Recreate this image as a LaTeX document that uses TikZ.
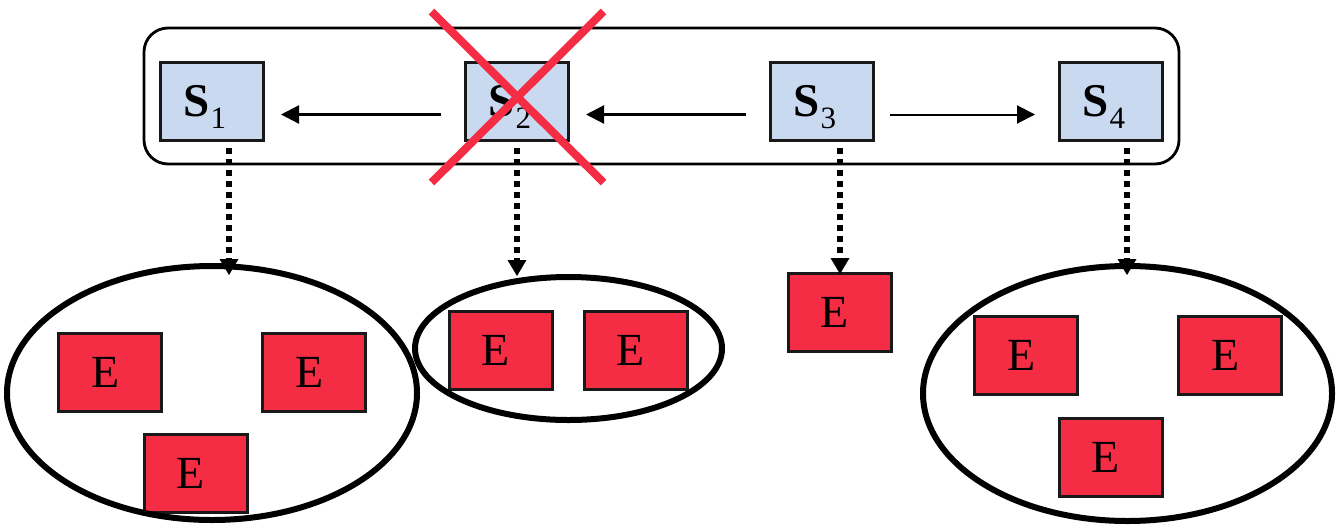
\documentclass[tikz,border=0pt]{standalone}
\usepackage{fontspec}
\setmainfont{Liberation Serif}
\usetikzlibrary{arrows.meta}
\definecolor{sfill}{HTML}{C9D9F0}
\definecolor{efill}{HTML}{F42C44}
\tikzset{
  x=0.5pt,y=-0.5pt,
  sbox/.style={draw=black!90,line width=1.5pt,fill=sfill,minimum width=51.5pt,minimum height=39pt,inner sep=0pt,font=\fontsize{23.5}{24}\selectfont\bfseries},
  ebox/.style={draw=black!90,line width=1.5pt,fill=efill,minimum width=51.5pt,minimum height=39pt,inner sep=0pt,font=\fontsize{23}{24}\selectfont},
  halo/.style={draw=black,line width=3pt},
  solidarrow/.style={line width=1.1pt,-{Triangle[length=9pt,width=9pt]}},
  thinarrow/.style={line width=1pt,-{Triangle[length=9pt,width=9pt]}},
  dotarrow/.style={line width=3.4pt,dash pattern=on 3pt off 2.5pt,-{Triangle[length=8pt,width=9.5pt,line width=0pt,sep=0pt]}},
}
\newcommand{\Slab}[1]{S\kern0.4pt\smash{\raisebox{-6pt}{\mdseries\fontsize{15.5}{15.5}\selectfont #1}}\kern7pt}
\newcommand{\Elab}{E\kern4.5pt}
\begin{document}
\begin{tikzpicture}
\useasboundingbox (0,0) rectangle (1336,525);
\fill[white] (0,0) rectangle (1336,525);
\node[draw=black,line width=1.4pt,rounded corners=12pt,minimum width=517.5pt,minimum height=68pt,inner sep=0pt] (bar) at (661.5,96) {};
\node[sbox] (s1) at (212,101.5) {\Slab{1}};
\node[sbox] (s2) at (517,101.5) {\Slab{2}};
\node[sbox] (s3) at (822,101.5) {\Slab{3}};
\node[sbox] (s4) at (1111,101.5) {\Slab{4}};
\draw[solidarrow,shorten <=11.5pt,shorten >=8pt] ([yshift=-6.5pt]s2.west) -- ([yshift=-6.5pt]s1.east);
\draw[solidarrow,shorten <=11.5pt,shorten >=8pt] ([yshift=-6.5pt]s3.west) -- ([yshift=-6.5pt]s2.east);
\draw[thinarrow,shorten <=7.5pt,shorten >=11.5pt] ([yshift=-6.5pt]s3.east) -- ([yshift=-6.5pt]s4.west);

\node[ebox] (e1) at (110,372) {\Elab};
\node[ebox] (e2) at (314,372) {\Elab};
\node[ebox] (e3) at (195.5,473) {\Elab};
\node[ebox] (e4) at (500.5,350) {\Elab};
\node[ebox] (e5) at (635.5,350) {\Elab};
\node[ebox] (e6) at (839.5,312) {\Elab};
\node[ebox] (e7) at (1026,355) {\Elab};
\node[ebox] (e8) at (1230,355) {\Elab};
\node[ebox] (e9) at (1110.5,457) {\Elab};

\draw[halo] (212,393) ellipse [x radius=205,y radius=127];
\draw[halo] (568.5,348.5) ellipse [x radius=153.5,y radius=71.5];
\draw[halo] (1127.5,393.5) ellipse [x radius=204.5,y radius=127.5];

\coordinate (t1) at (229,275);
\coordinate (t2) at (517,276);
\coordinate (t3) at (840,274);
\coordinate (t4) at (1127,275);
\draw[dotarrow] (s1.south -| t1) ++(0,6) -- (t1);
\draw[dotarrow] (s2.south -| t2) ++(0,6) -- (t2);
\draw[dotarrow] (s3.south -| t3) ++(0,6) -- (t3);
\draw[dotarrow] (s4.south -| t4) ++(0,6) -- (t4);

\coordinate (xa) at (431.5,11.5);
\coordinate (xb) at (603.5,182.5);
\coordinate (xc) at (603.5,11.5);
\coordinate (xd) at (431.5,182.5);
\draw[efill,line width=4pt] (xa) -- (xb);
\draw[efill,line width=4pt] (xc) -- (xd);
\end{tikzpicture}
\end{document}
